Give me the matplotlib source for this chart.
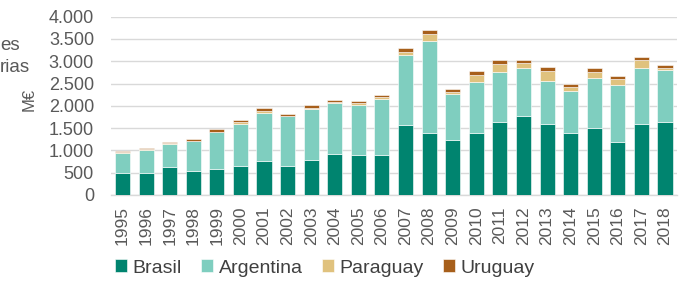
import matplotlib
matplotlib.use("Agg")
import matplotlib.pyplot as plt
import numpy as np

plt.rcParams['font.family'] = ['Liberation Sans', 'DejaVu Sans']

years = [str(y) for y in range(1995, 2019)]
brasil = [490, 490, 635, 540, 590, 645, 755, 645, 790, 925, 890, 890,
          1565, 1400, 1235, 1400, 1640, 1780, 1600, 1385, 1495, 1185, 1585, 1640]
argentina = [460, 520, 510, 665, 815, 955, 1090, 1120, 1145, 1145, 1135, 1270,
             1575, 2055, 1030, 1135, 1130, 1070, 950, 955, 1135, 1285, 1265, 1165]
paraguay = [20, 15, 15, 15, 15, 35, 40, 15, 20, 15, 30, 35,
            75, 150, 40, 150, 170, 120, 230, 75, 125, 135, 180, 50]
uruguay = [25, 30, 30, 35, 55, 55, 60, 45, 65, 40, 60, 55,
           90, 105, 80, 95, 95, 65, 85, 75, 85, 60, 75, 55]
yticks = [0, 500, 1000, 1500, 2000, 2500, 3000, 3500, 4000]
ytick_labels = ['0', '500', '1.000', '1.500', '2.000', '2.500', '3.000', '3.500', '4.000']
series = [('Brasil', brasil, '#00846F'),
          ('Argentina', argentina, '#7FCEBF'),
          ('Paraguay', paraguay, '#E0C27E'),
          ('Uruguay', uruguay, '#A75F1B')]

fig = plt.figure(figsize=(6.85, 2.83), dpi=100)
ax = fig.add_axes([0.1616, 0.311, 0.8264, 0.63])
x = np.arange(len(years))
bottom = np.zeros(len(years))
handles = []
for name, vals, col in series:
    v = np.array(vals, dtype=float)
    b = ax.bar(x, v, 0.64, bottom=bottom, color=col, edgecolor='white',
               linewidth=0.4, label=name, zorder=3)
    handles.append(b)
    bottom += v

ax.set_xlim(-0.5, len(years) - 0.5)
ax.set_ylim(0, 4000)
ax.set_yticks(yticks)
ax.set_yticklabels(ytick_labels)
ax.set_xticks(x)
ax.set_xticklabels(years, rotation=90)
ax.tick_params(axis='y', length=0, pad=12, labelsize=13, labelcolor='#595959')
ax.tick_params(axis='x', length=0, pad=8, labelsize=12.5, labelcolor='#595959')
ax.grid(axis='y', color='#D9D9D9', linewidth=1.0, zorder=0)
for s in ['top', 'right', 'left']:
    ax.spines[s].set_visible(False)
ax.spines['bottom'].set_color('#D9D9D9')
ax.spines['bottom'].set_linewidth(1.0)

fig.text(29 / 685, 1 - 99 / 283, 'M€', rotation=90, ha='center', va='center',
         fontsize=12, color='#595959')
fig.text(0, 1 - 45 / 283, 'es', ha='left', va='center', fontsize=13.5, color='#595959')
fig.text(0, 1 - 68 / 283, 'rias', ha='left', va='center', fontsize=13.5, color='#595959')

fig.legend(handles=handles, labels=[s[0] for s in series], loc='center',
           bbox_to_anchor=(325 / 685, 1 - 268 / 283), ncol=4, frameon=False,
           fontsize=14, handlelength=0.6, handleheight=0.6, handletextpad=0.3,
           columnspacing=1.0, labelcolor='#404040')

fig.savefig('out.png', dpi=100)
